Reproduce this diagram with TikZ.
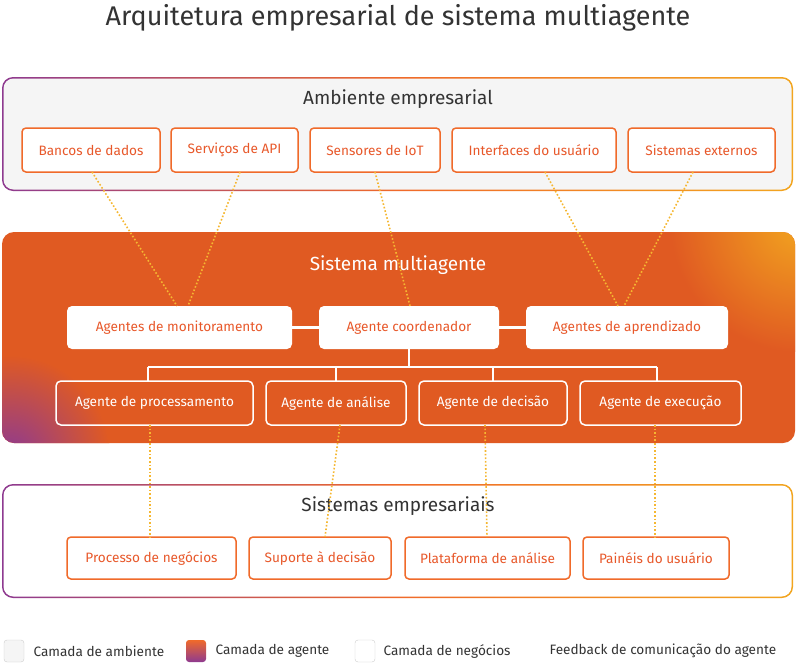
\documentclass[tikz,border=0pt]{standalone}
\usepackage{fontspec}
\setmainfont{Fira Sans}
\usetikzlibrary{positioning}
\definecolor{org}{HTML}{E8582A}
\definecolor{orgB}{HTML}{F06A2A}
\definecolor{mas}{HTML}{E05A22}
\definecolor{pur}{HTML}{8E3A90}
\definecolor{yel}{HTML}{F2A51F}
\definecolor{dotc}{HTML}{F5B731}
\definecolor{envf}{HTML}{F5F5F5}
\definecolor{ttl}{HTML}{333333}
\tikzset{
 envitem/.style={draw=orgB,line width=1.5pt,fill=white,rounded corners=4pt,text=org,font=\fontsize{13.6}{15}\selectfont,inner sep=0pt,minimum height=44pt},
 topag/.style={fill=white,rounded corners=5pt,text=org,font=\fontsize{13.6}{15}\selectfont,inner sep=0pt,minimum height=43pt},
 botag/.style={draw=white,line width=1.5pt,rounded corners=5pt,text=white,font=\fontsize{13.6}{15}\selectfont,inner sep=0pt,minimum height=44pt},
 bizitem/.style={envitem,minimum height=42pt},
 layertitle/.style={font=\fontsize{19}{22}\selectfont},
 fb/.style={dotc,line width=1.6pt,dotted},
 tree/.style={white,line width=2.5pt},
 leg/.style={font=\fontsize{13.6}{15}\selectfont,text=ttl,anchor=west}
}
\begin{document}
\begin{tikzpicture}[x=1pt,y=-1pt]
\useasboundingbox (0,0) rectangle (796,664);
\node[font=\fontsize{27}{30}\selectfont,text=ttl] (title) at (398,18) {Arquitetura empresarial de sistema multiagente};
% env layer
\shade[left color=pur,right color=yel,middle color=orgB,rounded corners=11pt] (2,77) rectangle (793,191);
\fill[envf,rounded corners=10pt] (3.5,78.5) rectangle (791.5,189.5);
\node[layertitle,text=ttl] (envt) at (398,99) {Ambiente empresarial};
\node[envitem,minimum width=138pt] (e1) at (91,150) {Bancos de dados};
\node[envitem,minimum width=127pt] (e2) at (234.5,150) {Serviços de API};
\node[envitem,minimum width=130pt] (e3) at (375,150) {Sensores de IoT};
\node[envitem,minimum width=164pt] (e4) at (534,150) {Interfaces do usuário};
\node[envitem,minimum width=147pt] (e5) at (701.5,150) {Sistemas externos};
% biz layer
\shade[left color=pur,right color=yel,middle color=orgB,rounded corners=11pt] (2,484) rectangle (793,598);
\fill[white,rounded corners=10pt] (3.5,485.5) rectangle (791.5,596.5);
\node[layertitle,text=ttl] (bizt) at (398,506) {Sistemas empresariais};
\node[bizitem,minimum width=169pt] (b1) at (151.5,558) {Processo de negócios};
\node[bizitem,minimum width=142pt] (b2) at (320,558) {Suporte à decisão};
\node[bizitem,minimum width=165pt] (b3) at (487.5,558) {Plataforma de análise};
\node[bizitem,minimum width=146pt] (b4) at (656,558) {Painéis do usuário};
% MAS layer
\begin{scope}
\clip[rounded corners=12pt] (2,232) rectangle (795,443);
\fill[mas] (0,230) rectangle (796,445);
\shade[inner color=pur,outer color=mas] (10,455) circle (100);
\shade[inner color=yel,outer color=mas] (800,222) circle (130);
\end{scope}
\node[layertitle,text=white] (mast) at (398,265) {Sistema multiagente};
\node[topag,minimum width=225pt] (a1) at (179.5,327.5) {Agentes de monitoramento};
\node[topag,minimum width=180pt] (a2) at (409,327.5) {Agente coordenador};
\node[topag,minimum width=202pt] (a3) at (627,327.5) {Agentes de aprendizado};
\node[botag,minimum width=197pt] (p1) at (154.5,403) {Agente de processamento};
\node[botag,minimum width=140pt] (p2) at (336,403) {Agente de análise};
\node[botag,minimum width=148pt] (p3) at (493,403) {Agente de decisão};
\node[botag,minimum width=161pt] (p4) at (660.5,403) {Agente de execução};
\coordinate (hub) at (409,367);
\draw[tree] (a1.east) -- (a2.west);
\draw[tree] (a2.east) -- (a3.west);
\draw[tree] (a2.south) -- (hub);
\draw[tree] (148,367) -- (657,367);
\draw[tree] (148,367) -- (148,381);
\draw[tree] (336,367) -- (336,381);
\draw[tree] (493,367) -- (493,381);
\draw[tree] (657,367) -- (657,381);
% feedback
\draw[fb] (92,172) -- (177,306);
\draw[fb] (240,172) -- (188,306);
\draw[fb] (375,172) -- (410,306);
\draw[fb] (545,172) -- (618,306);
\draw[fb] (693,172) -- (624,306);
\draw[fb] (150,425) -- (150,537);
\draw[fb] (340,425) -- (325,537);
\draw[fb] (485,425) -- (487,537);
\draw[fb] (655,425) -- (655,537);
% legend
\draw[gray!40,fill=envf,rounded corners=3pt] (4,640) rectangle (24,662);
\node[leg] (l1) at (30,651) {Camada de ambiente};
\shade[top color=orgB,bottom color=pur,rounded corners=3pt] (186,640) rectangle (206,662);
\node[leg] (l2) at (212,651) {Camada de agente};
\draw[gray!40,fill=white,rounded corners=3pt] (355,640) rectangle (375,662);
\node[leg] (l3) at (380,651) {Camada de negócios};
\node[leg] (l4) at (546,651) {Feedback de comunicação do agente};
\end{tikzpicture}
\end{document}
